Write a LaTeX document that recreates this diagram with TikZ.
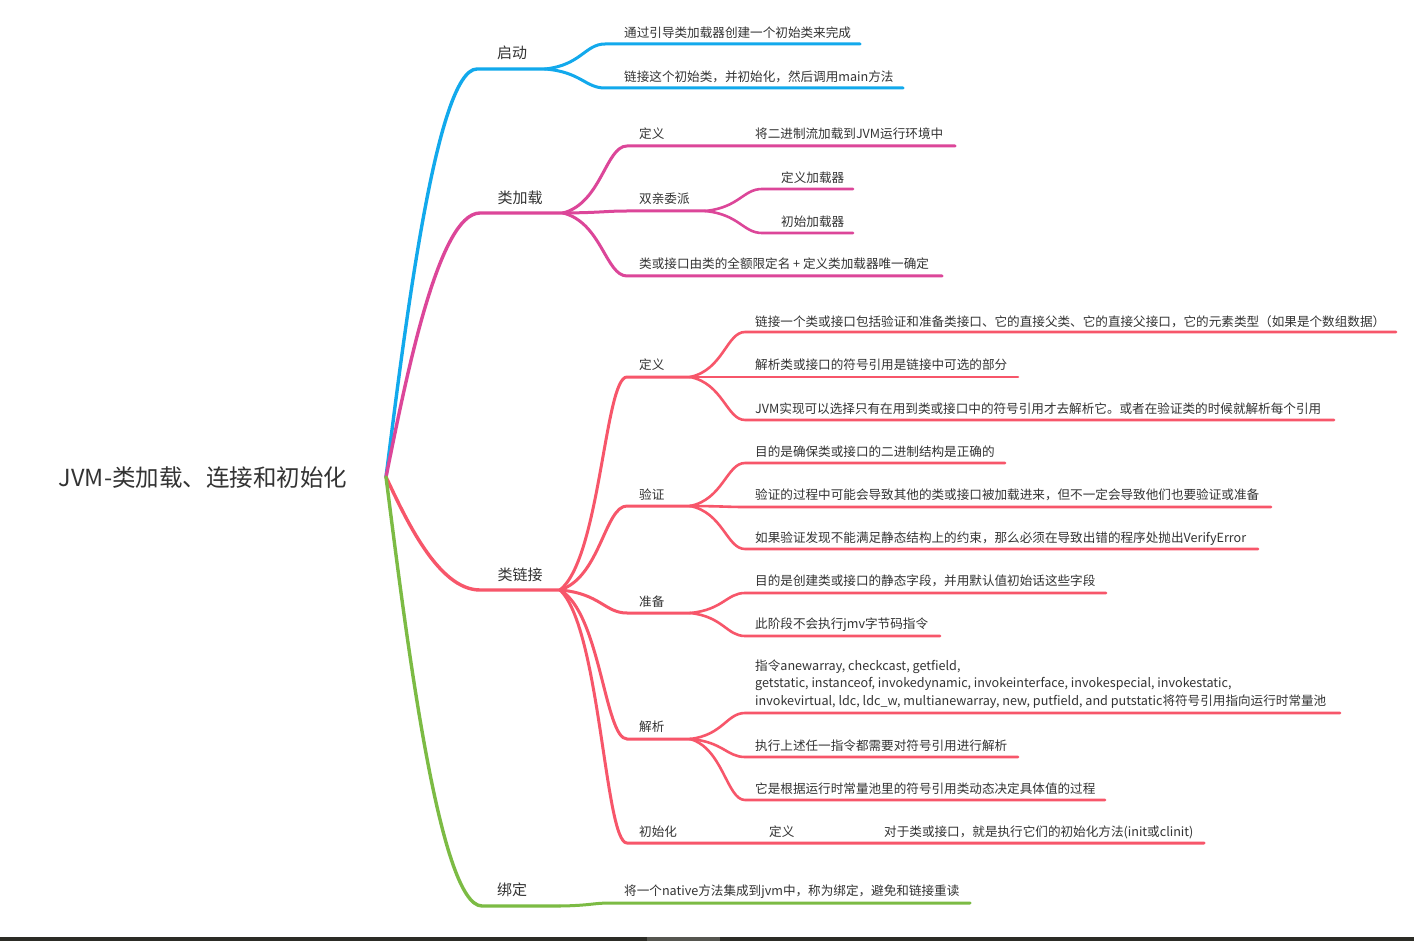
\documentclass[tikz,border=0pt]{standalone}
\usepackage{fontspec}
\setmainfont{Noto Sans CJK SC}
\usetikzlibrary{calc}
\definecolor{cblue}{HTML}{12A9EC}
\definecolor{cpink}{HTML}{DC4699}
\definecolor{cred}{HTML}{F7566A}
\definecolor{cgreen}{HTML}{7CBB44}
\definecolor{ctext}{HTML}{333333}
\definecolor{cbar}{HTML}{2C2C26}
\definecolor{cbarlight}{HTML}{56564F}
\tikzset{
  rootcurve/.style={to path={let \p1=(\tikztostart), \p2=(\tikztotarget) in
    .. controls (\x1+0.2*\x2-0.2*\x1, \y1+0.35*\y2-0.35*\y1) and (\x1+0.55*\x2-0.55*\x1, \y2) .. (\tikztotarget)}},
  subcurve/.style={to path={let \p1=(\tikztostart), \p2=(\tikztotarget) in
    .. controls (\x1+0.6*\x2-0.6*\x1, \y1+0.15*\y2-0.15*\y1) and (\x1+0.67*\x2-0.67*\x1, \y2) .. (\tikztotarget)}},
  lvA/.style={line width=3.4pt, line cap=round},
  lvB/.style={line width=3pt, line cap=round},
  lvC/.style={line width=2.6pt, line cap=round},
  maintext/.style={font=\fontsize{23.5}{27}\selectfont, text=ctext, inner sep=0, text height=0.88em, text depth=0.12em, yshift=-5pt},
  topic/.style={font=\fontsize{15}{18}\selectfont, text=ctext, inner sep=0, text height=0.88em, text depth=0.12em, yshift=-2.5pt},
  leaf/.style={font=\fontsize{12.6}{15}\selectfont, text=ctext, inner sep=0, anchor=west, text height=0.88em, text depth=0.12em, yshift=-2.5pt},
}
\begin{document}
\begin{tikzpicture}[x=1pt, y=-1pt]
\useasboundingbox (0,0) rectangle (1414,941);
\fill[white] (0,0) rectangle (1414,941);
% junction coordinates
\coordinate (root) at (386,477);
\coordinate (b0) at (477,69);  \coordinate (b0s) at (545,69);
\coordinate (b1) at (605,44);  \coordinate (b1e) at (860,44);
\coordinate (b2) at (605,88);  \coordinate (b2e) at (903,88);
\coordinate (p0) at (480,213); \coordinate (p0s) at (563,213);
\coordinate (p1) at (627,146); \coordinate (p1e) at (955,146);
\coordinate (p2) at (627,211); \coordinate (p2s) at (705,211);
\coordinate (p21) at (762,189); \coordinate (p21e) at (853,189);
\coordinate (p22) at (762,233); \coordinate (p22e) at (853,233);
\coordinate (p3) at (627,276); \coordinate (p3e) at (942,276);
\coordinate (r0) at (480,590); \coordinate (r0s) at (560,590);
\coordinate (r1) at (627,377); \coordinate (r1s) at (690,377);
\coordinate (r11) at (745,332); \coordinate (r11e) at (1396,332);
\coordinate (r12) at (745,377); \coordinate (r12e) at (1018,377);
\coordinate (r13) at (745,420); \coordinate (r13e) at (1334,420);
\coordinate (r2) at (627,506); \coordinate (r2s) at (690,506);
\coordinate (r21) at (745,463); \coordinate (r21e) at (1005,463);
\coordinate (r22) at (745,507); \coordinate (r22e) at (1271,507);
\coordinate (r23) at (745,549); \coordinate (r23e) at (1258,549);
\coordinate (r3) at (627,613); \coordinate (r3s) at (690,613);
\coordinate (r31) at (745,593); \coordinate (r31e) at (1106,593);
\coordinate (r32) at (745,636); \coordinate (r32e) at (940,636);
\coordinate (r4) at (627,739); \coordinate (r4s) at (690,739);
\coordinate (r41) at (745,713); \coordinate (r41e) at (1340,713);
\coordinate (r42) at (745,757); \coordinate (r42e) at (1018,757);
\coordinate (r43) at (745,800); \coordinate (r43e) at (1105,800);
\coordinate (r5) at (627,843); \coordinate (r5e) at (1204,843);
\coordinate (g0) at (482,906); \coordinate (g0s) at (560,906);
\coordinate (g1) at (610,903); \coordinate (g1e) at (970,903);
% blue
\draw[cblue, lvA] (root) to[rootcurve] (b0) -- (b0s);
\draw[cblue, lvB] (b0s) to[subcurve] (b1) -- (b1e);
\draw[cblue, lvB] (b0s) to[subcurve] (b2) -- (b2e);
% pink
\draw[cpink, lvA] (root) to[rootcurve] (p0) -- (p0s);
\draw[cpink, lvB] (p0s) to[subcurve] (p1) -- (p1e);
\draw[cpink, lvB] (p0s) to[subcurve] (p2) -- (p2s);
\draw[cpink, lvC] (p2s) to[subcurve] (p21) -- (p21e);
\draw[cpink, lvC] (p2s) to[subcurve] (p22) -- (p22e);
\draw[cpink, lvB] (p0s) to[subcurve] (p3) -- (p3e);
% red
\draw[cred, lvA] (root) to[rootcurve] (r0) -- (r0s);
\draw[cred, lvB] (r0s) to[subcurve] (r1) -- (r1s);
\draw[cred, lvC] (r1s) to[subcurve] (r11) -- (r11e);
\draw[cred, lvC] (r1s) -- (r12) -- (r12e);
\draw[cred, lvC] (r1s) to[subcurve] (r13) -- (r13e);
\draw[cred, lvB] (r0s) to[subcurve] (r2) -- (r2s);
\draw[cred, lvC] (r2s) to[subcurve] (r21) -- (r21e);
\draw[cred, lvC] (r2s) to[subcurve] (r22) -- (r22e);
\draw[cred, lvC] (r2s) to[subcurve] (r23) -- (r23e);
\draw[cred, lvB] (r0s) to[subcurve] (r3) -- (r3s);
\draw[cred, lvC] (r3s) to[subcurve] (r31) -- (r31e);
\draw[cred, lvC] (r3s) to[subcurve] (r32) -- (r32e);
\draw[cred, lvB] (r0s) to[subcurve] (r4) -- (r4s);
\draw[cred, lvC] (r4s) to[subcurve] (r41) -- (r41e);
\draw[cred, lvC] (r4s) to[subcurve] (r42) -- (r42e);
\draw[cred, lvC] (r4s) to[subcurve] (r43) -- (r43e);
\draw[cred, lvB] (r0s) to[subcurve] (r5) -- (r5e);
% green
\draw[cgreen, lvA] (root) to[rootcurve] (g0) -- (g0s);
\draw[cgreen, lvB] (g0s) to[subcurve] (g1) -- (g1e);
% texts
\node[maintext] (tRoot) at (203,478) {JVM-类加载、连接和初始化};
\node[topic] (tB) at (512,52) {启动};
\node[topic] (tP) at (520,197) {类加载};
\node[topic] (tR) at (520,574) {类链接};
\node[topic] (tG) at (512,889) {绑定};
\node[leaf] (tB1) at (624,31) {通过引导类加载器创建一个初始类来完成};
\node[leaf] (tB2) at (624,75) {链接这个初始类，并初始化，然后调用main方法};
\node[leaf] (tP1) at (639,132) {定义};
\node[leaf] (tP1a) at (755,132) {将二进制流加载到JVM运行环境中};
\node[leaf] (tP2) at (639,197) {双亲委派};
\node[leaf] (tP21) at (781,176) {定义加载器};
\node[leaf] (tP22) at (781,220) {初始加载器};
\node[leaf] (tP3) at (639,262) {类或接口由类的全额限定名 + 定义类加载器唯一确定};
\node[leaf] (tR1) at (639,363) {定义};
\node[leaf] (tR11) at (755,320) {链接一个类或接口包括验证和准备类接口、它的直接父类、它的直接父接口，它的元素类型（如果是个数组数据）};
\node[leaf] (tR12) at (755,363) {解析类或接口的符号引用是链接中可选的部分};
\node[leaf] (tR13) at (755,407) {JVM实现可以选择只有在用到类或接口中的符号引用才去解析它。或者在验证类的时候就解析每个引用};
\node[leaf] (tR2) at (639,493) {验证};
\node[leaf] (tR21) at (755,450) {目的是确保类或接口的二进制结构是正确的};
\node[leaf] (tR22) at (755,493) {验证的过程中可能会导致其他的类或接口被加载进来，但不一定会导致他们也要验证或准备};
\node[leaf] (tR23) at (755,536) {如果验证发现不能满足静态结构上的约束，那么必须在导致出错的程序处抛出VerifyError};
\node[leaf] (tR3) at (639,600) {准备};
\node[leaf] (tR31) at (755,579) {目的是创建类或接口的静态字段，并用默认值初始话这些字段};
\node[leaf] (tR32) at (755,622) {此阶段不会执行jmv字节码指令};
\node[leaf] (tR4) at (639,725) {解析};
\node[leaf, yshift=0pt, text height=, text depth=, font=\fontsize{12.6}{17.5}\selectfont, align=left, anchor=north west] (tR41) at (755,657)
  {指令anewarray, checkcast, getfield,\\getstatic, instanceof, invokedynamic, invokeinterface, invokespecial, invokestatic,\\invokevirtual, ldc, ldc\_w, multianewarray, new, putfield, and putstatic将符号引用指向运行时常量池};
\node[leaf] (tR42) at (755,744) {执行上述任一指令都需要对符号引用进行解析};
\node[leaf] (tR43) at (755,787) {它是根据运行时常量池里的符号引用类动态决定具体值的过程};
\node[leaf] (tR5) at (639,830) {初始化};
\node[leaf] (tR5a) at (769,830) {定义};
\node[leaf] (tR5b) at (884,830) {对于类或接口，就是执行它们的初始化方法(init或clinit)};
\node[leaf] (tG1) at (624,889) {将一个native方法集成到jvm中，称为绑定，避免和链接重读};
% bottom bar
\fill[cbar] (0,937) rectangle (1414,941);
\fill[cbarlight] (647,937) rectangle (720,941);
\end{tikzpicture}
\end{document}
